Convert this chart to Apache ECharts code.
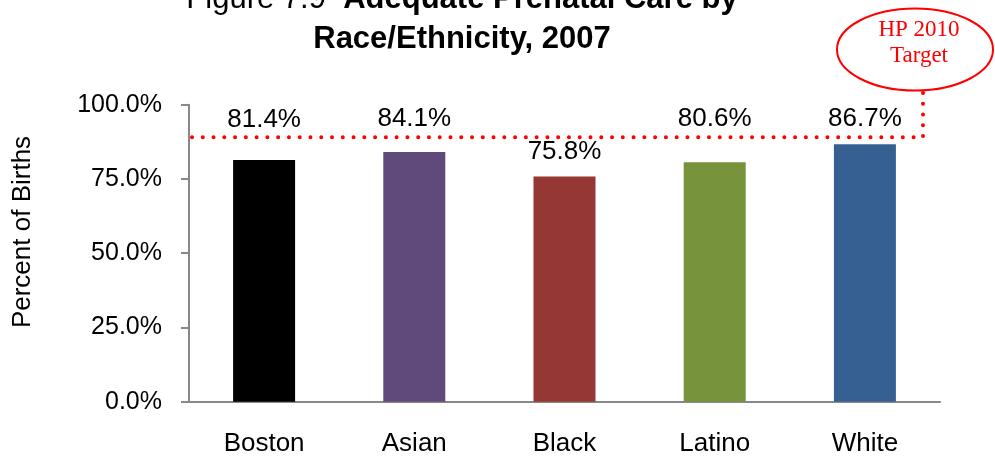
<!DOCTYPE html>
<html><head><meta charset="utf-8">
<script src="https://cdn.jsdelivr.net/npm/echarts@6/dist/echarts.min.js"></script>
<style>html,body{margin:0;padding:0;background:#fff}#c{width:995px;height:458px}</style>
</head><body><div id="c"></div>
<script>
const categories = ['Boston', 'Asian', 'Black', 'Latino', 'White'];
const values = [81.4, 84.1, 75.8, 80.6, 86.7];
const barColors = ['#000000', '#604a7b', '#953735', '#77933c', '#376092'];
const labelGaps = [27, 20, 12, 30, 12];
const yMin = 0, yMax = 100, yInterval = 25;
const targetValue = 89;
const titleLine1a = 'Figure 7.9  ';
const titleLine1b = 'Adequate Prenatal Care by';
const titleLine2 = 'Race/Ethnicity, 2007';
const yAxisName = 'Percent of Births';
const targetLabel = 'HP 2010\nTarget';

const FONT = "'Liberation Sans', Arial, sans-serif";
const chart = echarts.init(document.getElementById('c'), null, {renderer: 'canvas'});

const option = {
  animation: false,
  backgroundColor: '#ffffff',
  grid: {left: 189, right: 55, top: 104.7, bottom: 56.3, containLabel: false},
  xAxis: {
    type: 'category',
    data: categories,
    axisLine: {lineStyle: {color: '#888888', width: 2}},
    axisTick: {show: false},
    axisLabel: {color: '#000', fontFamily: FONT, fontSize: 26, margin: 29}
  },
  yAxis: {
    type: 'value',
    min: yMin, max: yMax, interval: yInterval,
    axisLine: {show: true, lineStyle: {color: '#888888', width: 2}},
    axisTick: {show: true, inside: false, length: 8, lineStyle: {color: '#888888', width: 2}},
    splitLine: {show: false},
    axisLabel: {color: '#000', fontFamily: FONT, fontSize: 25, margin: 27,
      formatter: v => v.toFixed(1) + '%'}
  },
  series: [{
    type: 'bar',
    barWidth: 62,
    data: values.map((v, i) => ({
      value: v,
      itemStyle: {color: barColors[i]},
      label: {distance: labelGaps[i]}
    })),
    label: {
      show: true, position: 'top', color: '#000', fontFamily: FONT, fontSize: 26,
      formatter: p => p.value.toFixed(1) + '%'
    }
  }]
};
chart.setOption(option);

const ty = chart.convertToPixel({yAxisIndex: 0}, targetValue);
const gridLeft = 192;
const vx = 923;
const ellCx = 915, ellCy = 49.5, ellRx = 78, ellRy = 41;

chart.setOption({
  graphic: [
    {
      type: 'text', x: 462, y: -21, z: 10,
      style: {
        text: '{n|' + titleLine1a + '}{b|' + titleLine1b + '}\n{b|' + titleLine2 + '}',
        align: 'center', verticalAlign: 'top',
        rich: {
          n: {fontFamily: FONT, fontSize: 31, fontWeight: 'normal', lineHeight: 40, fill: '#000'},
          b: {fontFamily: FONT, fontSize: 31, fontWeight: 'bold', lineHeight: 40, fill: '#000'}
        }
      }
    },
    {
      type: 'text', x: 23, y: 232, rotation: Math.PI / 2, z: 10,
      style: {
        text: yAxisName, align: 'center', verticalAlign: 'middle',
        fontFamily: FONT, fontSize: 26, fill: '#000'
      }
    },
    {
      type: 'polyline', z: 5,
      shape: {points: [[gridLeft, ty], [vx, ty], [vx, ellCy + ellRy + 1]]},
      style: {stroke: '#ff0000', lineWidth: 4, lineDash: [0.01, 10.76], lineCap: 'round', fill: null}
    },
    {
      type: 'ellipse', z: 6,
      shape: {cx: ellCx, cy: ellCy, rx: ellRx, ry: ellRy},
      style: {stroke: '#ff0000', lineWidth: 2, fill: '#ffffff'}
    },
    {
      type: 'text', x: 919, y: 43, z: 7,
      style: {
        text: targetLabel, align: 'center', verticalAlign: 'middle',
        fontFamily: "'Liberation Serif', 'Times New Roman', serif", fontSize: 23,
        lineHeight: 26, fill: '#ff0000'
      }
    }
  ]
});
</script>
</body></html>
